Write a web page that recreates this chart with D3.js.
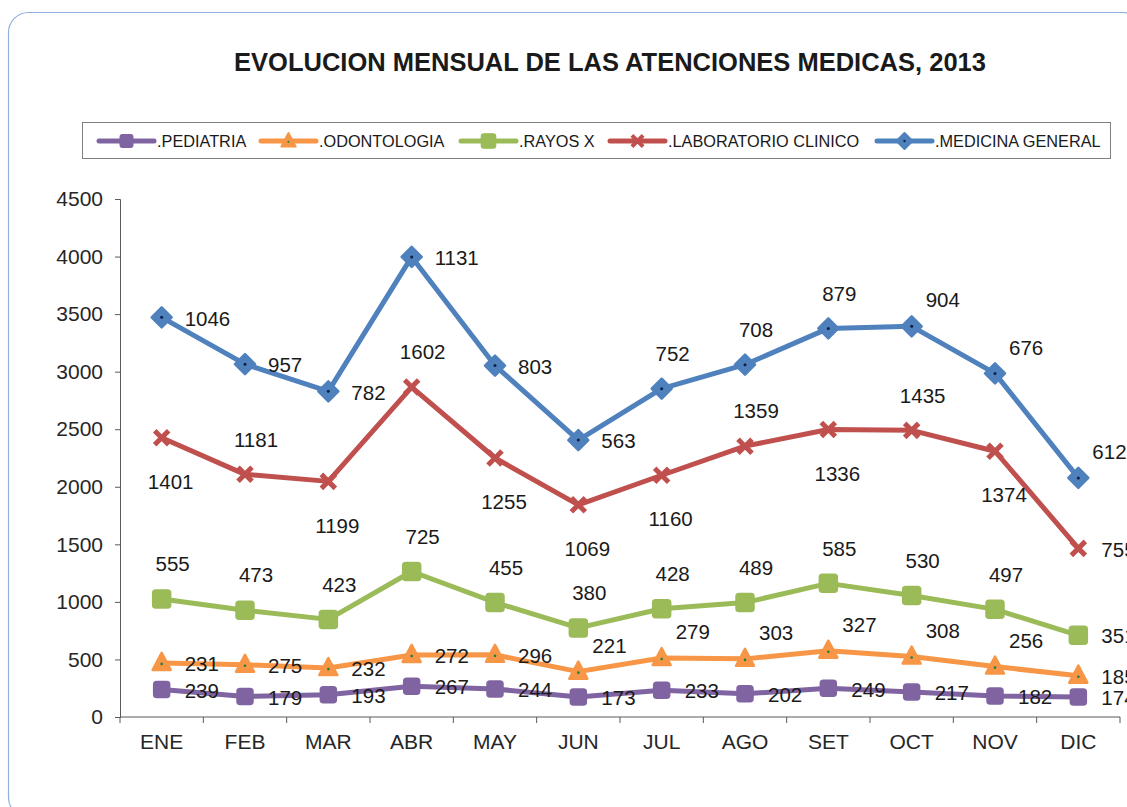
<!DOCTYPE html>
<html>
<head>
<meta charset="utf-8">
<script src="https://cdn.jsdelivr.net/npm/d3@7"></script>
<style>
    body { margin: 0; background: #fff; }
    svg { display: block; font-family: "Liberation Sans", Arial, sans-serif; }
</style>
</head>
<body>
<svg id="chart" width="1127" height="807"></svg>
<script>
const months = ["ENE", "FEB", "MAR", "ABR", "MAY", "JUN", "JUL", "AGO", "SET", "OCT", "NOV", "DIC"]
const pediatria = [239, 179, 193, 267, 244, 173, 233, 202, 249, 217, 182, 174]
const odontologia = [231, 275, 232, 272, 296, 221, 279, 303, 327, 308, 256, 185]
const rayosX = [555, 473, 423, 725, 455, 380, 428, 489, 585, 530, 497, 351]
const laboratorio = [1401, 1181, 1199, 1602, 1255, 1069, 1160, 1359, 1336, 1435, 1374, 755]
const medicina = [1046, 957, 782, 1131, 803, 563, 752, 708, 879, 904, 676, 612]
const yTicks = [0, 500, 1000, 1500, 2000, 2500, 3000, 3500, 4000, 4500]

// where each data label sits relative to its point: r=right, t=top, b=below, u=up-right
const labelPos = {
    ped: ["r", "r", "r", "r", "r", "r", "r", "r", "r", "r", "r", "r"],
    odo: ["r", "r", "r", "r", "r", "u", "u", "u", "u", "u", "u", "r"],
    ray: ["t", "t", "t", "t", "t", "t", "t", "t", "t", "t", "t", "r"],
    lab: ["b", "t", "b", "t", "b", "b", "b", "t", "b", "t", "b", "r"],
    med: ["r", "r", "r", "r", "r", "r", "t", "t", "t", "u", "u", "u"],
}

const series = [
    { key: "ped", name: ".PEDIATRIA", values: pediatria, color: "#8064A2", marker: "square" },
    { key: "odo", name: ".ODONTOLOGIA", values: odontologia, color: "#F79646", marker: "triangle" },
    { key: "ray", name: ".RAYOS X", values: rayosX, color: "#9BBB59", marker: "bigsquare" },
    { key: "lab", name: ".LABORATORIO CLINICO", values: laboratorio, color: "#C0504D", marker: "cross" },
    { key: "med", name: ".MEDICINA GENERAL", values: medicina, color: "#4F81BD", marker: "diamond" },
]

const table = months.map((m, i) => {
    const row = { month: m }
    series.forEach((s) => (row[s.key] = s.values[i]))
    return row
})
const stacked = d3.stack().keys(series.map((s) => s.key))(table)

const svg = d3.select("#chart")

svg.append("rect")
    .attr("x", 8.5).attr("y", 12.5)
    .attr("width", 1135).attr("height", 805)
    .attr("rx", 20)
    .attr("fill", "#fff")
    .attr("stroke", "#8eb0d9")
    .attr("stroke-width", 1.2)

svg.append("text")
    .attr("x", 610).attr("y", 71)
    .attr("text-anchor", "middle")
    .attr("font-weight", "bold")
    .attr("font-size", 25.5)
    .attr("fill", "#1a1a1a")
    .text("EVOLUCION MENSUAL DE LAS ATENCIONES MEDICAS, 2013")

const margin = { left: 120, top: 199, right: 1120, bottom: 717 }
const x = d3.scaleBand().domain(months).range([margin.left, margin.right])
const y = d3.scaleLinear().domain([0, 4500]).range([margin.bottom, margin.top])

// axes
const yAxis = svg.append("g")
    .attr("transform", `translate(${margin.left},0)`)
    .call(d3.axisLeft(y).tickValues(yTicks).tickFormat(d3.format("d")).tickSize(5).tickPadding(12))
yAxis.selectAll("text").attr("font-size", 21).attr("fill", "#262626").attr("font-family", "Liberation Sans, Arial")
yAxis.selectAll("line, path").attr("stroke", "#595959")

const xAxis = svg.append("g")
    .attr("transform", `translate(0,${margin.bottom})`)
    .call(d3.axisBottom(x).tickSize(0).tickPadding(17))
xAxis.selectAll("text").attr("font-size", 21).attr("fill", "#262626").attr("font-family", "Liberation Sans, Arial")
xAxis.select("path").attr("stroke", "#595959").attr("d", `M${margin.left},0H${margin.right}`)
xAxis.append("g")
    .selectAll("line")
    .data(d3.range(months.length + 1))
    .join("line")
    .attr("x1", (i) => margin.left + i * x.step())
    .attr("x2", (i) => margin.left + i * x.step())
    .attr("y1", 0).attr("y2", 6)
    .attr("stroke", "#595959")

function drawMarker(g, type, color) {
    if (type === "square") {
        g.append("rect").attr("x", -8).attr("y", -8).attr("width", 16).attr("height", 16)
            .attr("rx", 3).attr("fill", color).attr("stroke", color).attr("stroke-width", 1.5)
    } else if (type === "bigsquare") {
        g.append("rect").attr("x", -9).attr("y", -9).attr("width", 18).attr("height", 18)
            .attr("rx", 3).attr("fill", color).attr("stroke", color).attr("stroke-width", 1.5)
    } else if (type === "triangle") {
        g.append("path").attr("d", "M0,-10L9,7L-9,7Z")
            .attr("fill", color).attr("stroke", color).attr("stroke-width", 2.5).attr("stroke-linejoin", "round")
        g.append("circle").attr("cy", 1).attr("r", 1.3).attr("fill", "#1c7f3a")
    } else if (type === "cross") {
        g.append("path").attr("d", "M-7,-7L7,7M-7,7L7,-7")
            .attr("stroke", color).attr("stroke-width", 5).attr("fill", "none")
    } else if (type === "diamond") {
        g.append("path").attr("d", "M0,-10L10,0L0,10L-10,0Z")
            .attr("fill", color).attr("stroke", color).attr("stroke-width", 2.5).attr("stroke-linejoin", "round")
        g.append("circle").attr("r", 1.5).attr("fill", "#0b1f4a")
    }
}

const line = d3.line()
    .x((d) => x(d.data.month) + x.bandwidth() / 2)
    .y((d) => y(d[1]))

const labelOffsets = {
    r: { dx: 23, dy: 1, anchor: "start" },
    t: { dx: 11, dy: -35, anchor: "middle" },
    b: { dx: 9, dy: 44, anchor: "middle" },
    u: { dx: 14, dy: -26, anchor: "start" },
}

const plot = svg.append("g")
series.forEach((s, si) => {
    const layer = stacked[si]
    plot.append("path")
        .datum(layer)
        .attr("fill", "none")
        .attr("stroke", s.color)
        .attr("stroke-width", 5)
        .attr("stroke-linejoin", "round")
        .attr("d", line)

    plot.append("g")
        .selectAll("g")
        .data(layer)
        .join("g")
        .attr("transform", (d) => `translate(${x(d.data.month) + x.bandwidth() / 2},${y(d[1])})`)
        .each(function () { drawMarker(d3.select(this), s.marker, s.color) })
})

// data labels on top
series.forEach((s, si) => {
    const layer = stacked[si]
    plot.append("g")
        .selectAll("text")
        .data(layer)
        .join("text")
        .attr("x", (d, i) => x(d.data.month) + x.bandwidth() / 2 + labelOffsets[labelPos[s.key][i]].dx)
        .attr("y", (d, i) => y(d[1]) + labelOffsets[labelPos[s.key][i]].dy)
        .attr("dy", "0.35em")
        .attr("text-anchor", (d, i) => labelOffsets[labelPos[s.key][i]].anchor)
        .attr("font-size", 20.5)
        .attr("fill", "#1a1a1a")
        .text((d, i) => s.values[i])
})

// legend
const legend = svg.append("g")
legend.append("rect")
    .attr("x", 82.5).attr("y", 122.5).attr("width", 1028).attr("height", 36)
    .attr("fill", "#fff").attr("stroke", "#7f7f7f")
const legendX = d3.scaleOrdinal().domain(series.map((s) => s.key)).range([99, 261, 461, 610, 877])
series.forEach((s) => {
    const g = legend.append("g").attr("transform", `translate(${legendX(s.key)},141)`)
    g.append("line").attr("x1", 0).attr("x2", 55).attr("stroke", s.color).attr("stroke-width", 5)
        .attr("stroke-linecap", "round")
    const m = g.append("g").attr("transform", "translate(27.5,0) scale(0.8)")
    drawMarker(m, s.marker, s.color)
    g.append("text").attr("x", 58).attr("dy", "0.35em").attr("font-size", 16.3)
        .attr("fill", "#1a1a1a").text(s.name)
})
</script>
</body>
</html>
